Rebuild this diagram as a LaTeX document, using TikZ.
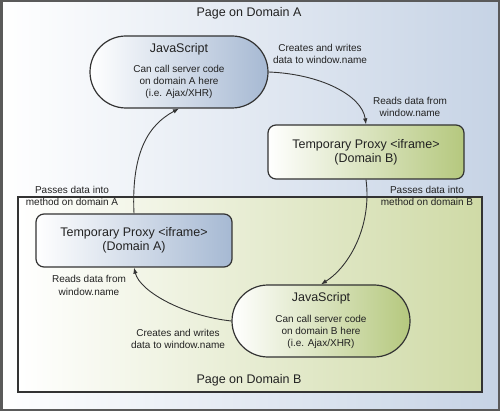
\documentclass[tikz,border=0pt]{standalone}
\usepackage{fontspec}
\setmainfont{Liberation Sans}
\usetikzlibrary{arrows.meta}
\definecolor{bgblue}{HTML}{C6D3E5}
\definecolor{bggreen}{HTML}{CFDAA6}
\definecolor{nodeblue}{HTML}{A6B9D3}
\definecolor{nodegreen}{HTML}{B5C87E}
\definecolor{edge}{HTML}{333333}
\definecolor{frame}{HTML}{5A5A5A}
\definecolor{txt}{HTML}{222222}
\begin{document}
\begin{tikzpicture}[x=1pt,y=-1pt,
  big/.style={font=\fontsize{12.5}{15}\selectfont, anchor=base, inner sep=0pt, text=txt},
  small/.style={font=\fontsize{10}{12}\selectfont, anchor=base, inner sep=0pt, text=txt},
  stadium/.style={draw=edge, line width=1.2pt, rounded corners=36pt, minimum width=178pt, minimum height=72pt, inner sep=0pt},
  proxy/.style={draw=edge, line width=1.2pt, rounded corners=8pt, minimum width=196pt, minimum height=54pt, inner sep=0pt},
  conn/.style={draw=edge, line width=0.9pt, -{Latex[length=6pt,width=4.5pt]}}]
\useasboundingbox (0,0) rectangle (500,411);
% page A background
\fill[left color=white, right color=bgblue] (0,0) rectangle (500,411);
\draw[frame, line width=2.5pt] (1.25,1.25) rectangle (498.75,409.75);
% page B background
\draw[draw=edge, line width=1.2pt, left color=white, right color=bggreen] (18,197) rectangle (482,392);
% titles
\node[big] (tA) at (249,17) {Page on Domain A};
\node[big] (tB) at (249,383.5) {Page on Domain B};
% shapes
\node[stadium, left color=white, right color=nodeblue] (jsA) at (179,72) {};
\node[proxy, left color=white, right color=nodegreen] (pB) at (366,152) {};
\node[proxy, left color=white, right color=nodeblue, minimum height=53pt] (pA) at (134,240.5) {};
\node[stadium, left color=white, right color=nodegreen] (jsB) at (321,321) {};
% texts in JS A
\node[big] (jsA1) at (179,52.5) {JavaScript};
\node[small] (jsA2) at (179,73) {Can call server code};
\node[small] (jsA3) at (179,85) {on domain A here};
\node[small] (jsA4) at (179,97) {(i.e. Ajax/XHR)};
% texts in proxy B
\node[big] (pB1) at (366,149) {Temporary Proxy <iframe>};
\node[big] (pB2) at (366,163) {(Domain B)};
% texts in proxy A
\node[big] (pA1) at (134,237) {Temporary Proxy <iframe>};
\node[big] (pA2) at (134,251) {(Domain A)};
% texts in JS B
\node[big] (jsB1) at (321,301.5) {JavaScript};
\node[small] (jsB2) at (321,322) {Can call server code};
\node[small] (jsB3) at (321,334) {on domain B here};
\node[small] (jsB4) at (321,346) {(i.e. Ajax/XHR)};
% connectors
\draw[conn] (jsA.east) .. controls (320,74) and (362,95) .. (pB.north);
\draw[conn] (pB.south) .. controls (372,225) and (350,266) .. (jsB.north);
\draw[conn] (jsB.west) .. controls (185,316) and (140,292) .. (pA.south);
\draw[conn] (pA.north) .. controls (131,150) and (150,124) .. (jsA.south);
% labels
\node[small] (l1a) at (320,51.5) {Creates and writes};
\node[small] (l1b) at (320,63.5) {data to window.name};
\node[small] (l2a) at (410,104.5) {Reads data from};
\node[small] (l2b) at (410,116.5) {window.name};
\node[small] (l3a) at (427,194) {Passes data into};
\node[small] (l3b) at (427,206) {method on domain B};
\node[small] (l4a) at (72,194) {Passes data into};
\node[small] (l4b) at (72,206) {method on domain A};
\node[small] (l5a) at (89,283) {Reads data from};
\node[small] (l5b) at (89,295) {window.name};
\node[small] (l6a) at (178,336) {Creates and writes};
\node[small] (l6b) at (178,348) {data to window.name};
\end{tikzpicture}
\end{document}
